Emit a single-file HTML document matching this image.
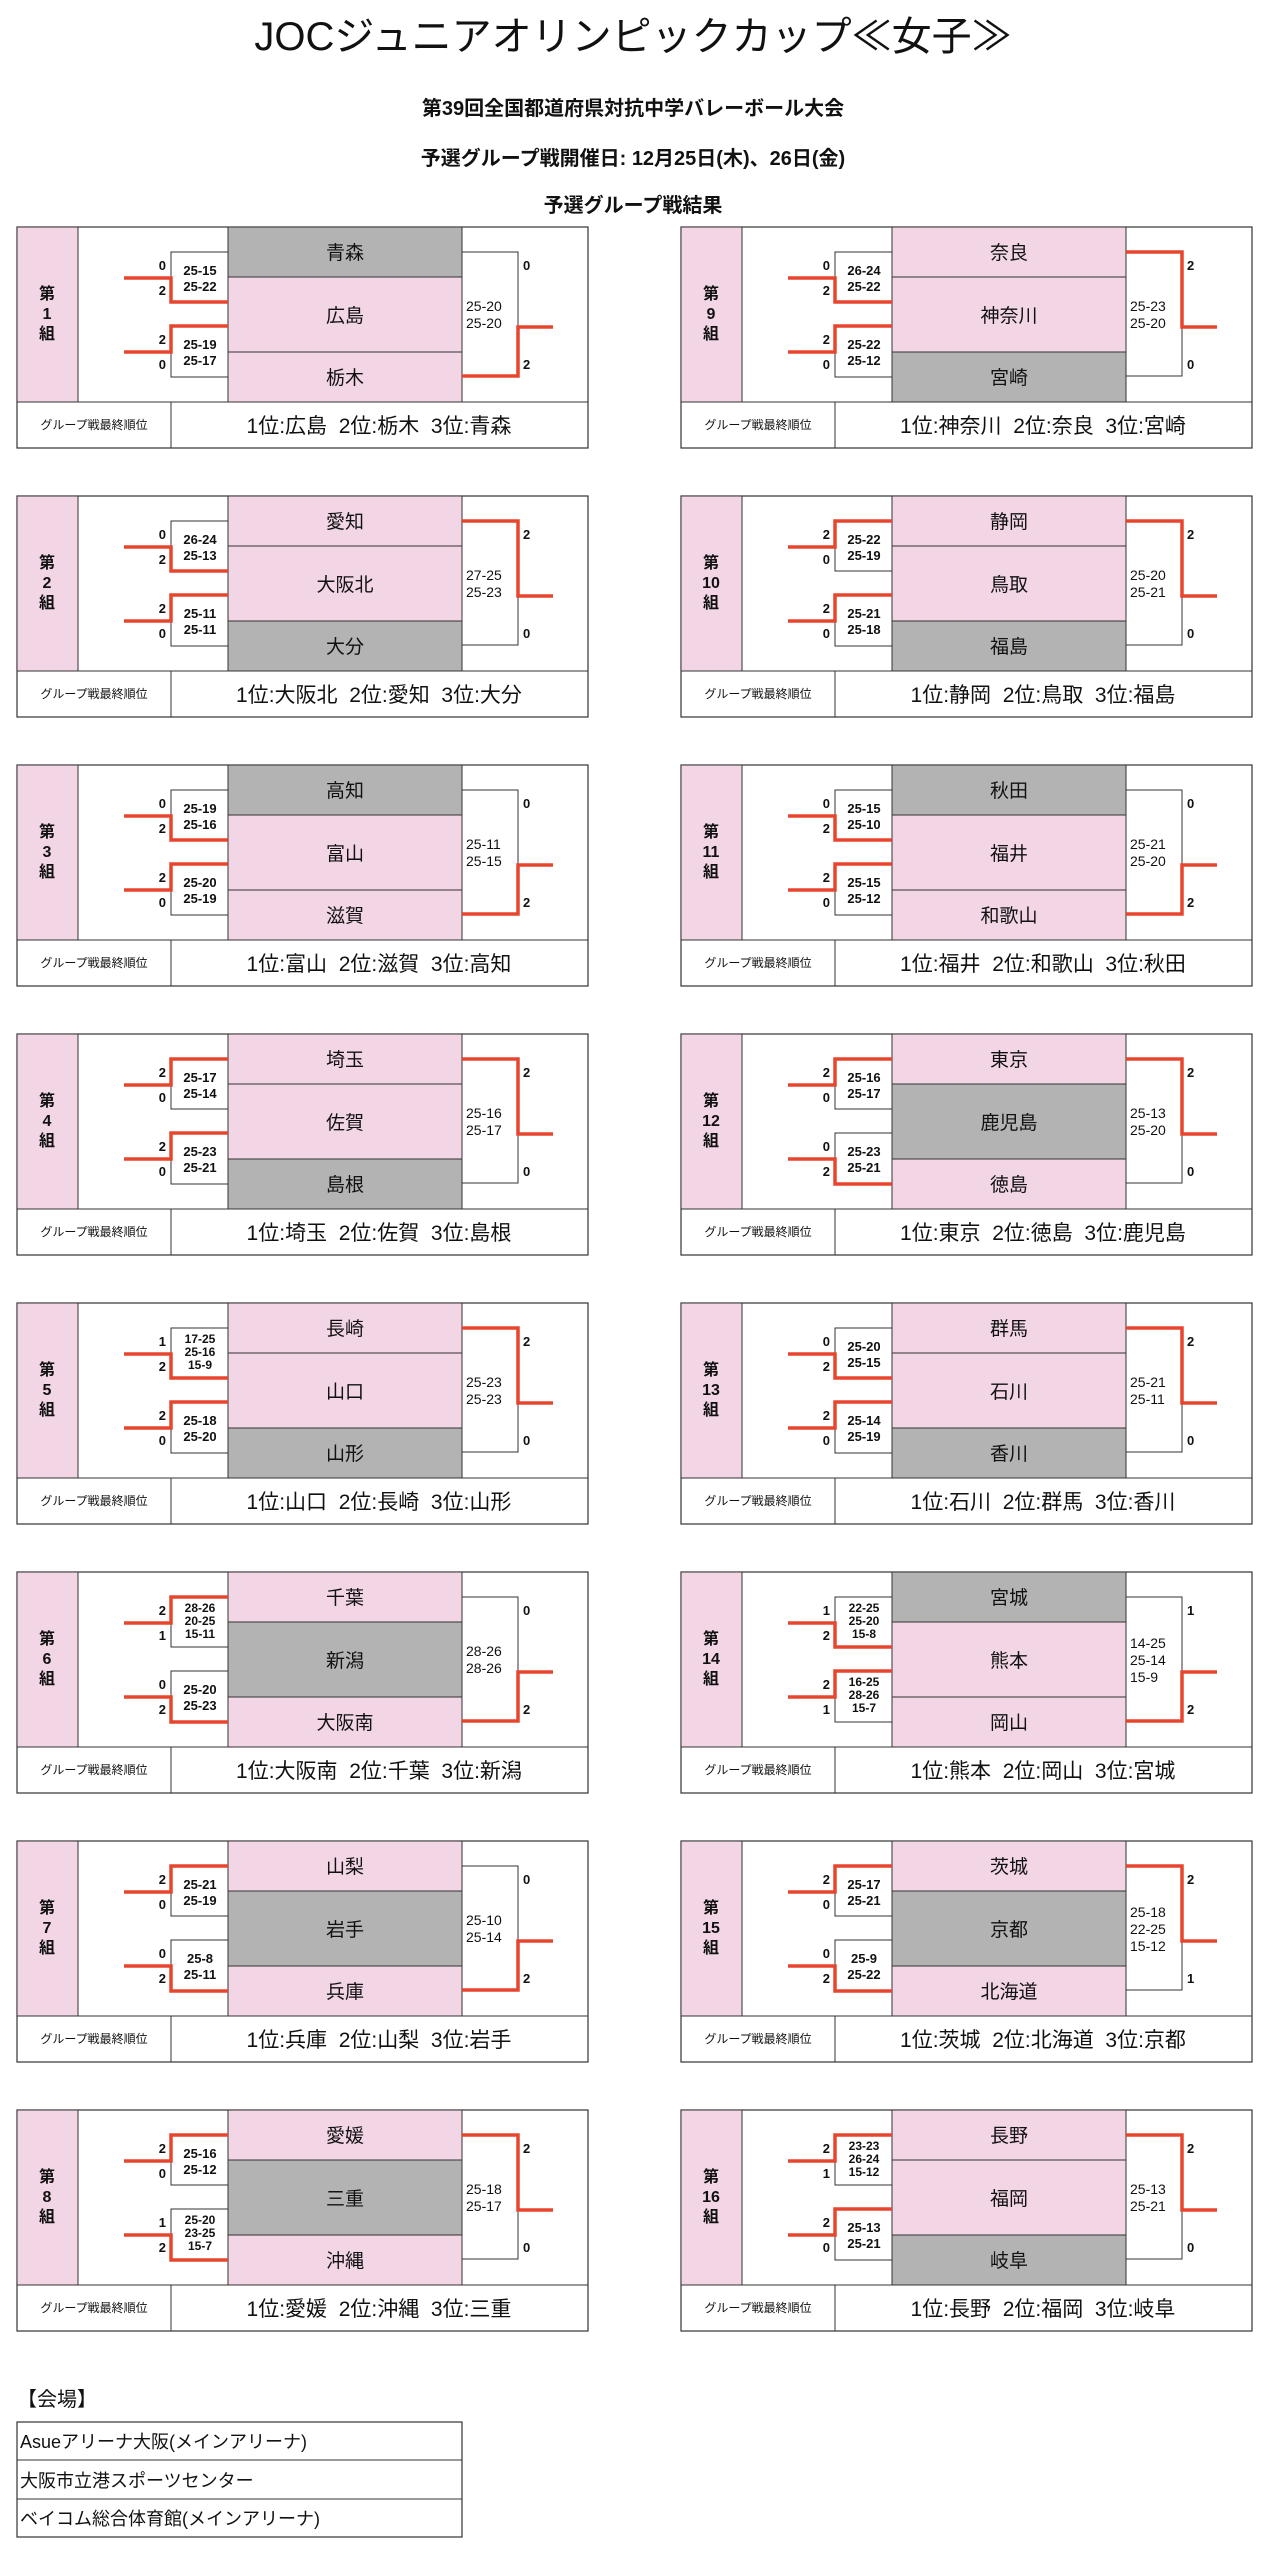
<!DOCTYPE html>
<html><head><meta charset="utf-8"><style>
html,body{margin:0;padding:0;background:#fff;}
svg{display:block;}
text{font-family:"Liberation Sans","Noto Sans CJK JP",sans-serif;fill:#111;}
.t{font-size:19px;text-anchor:middle;}
.lb{font-size:16px;font-weight:bold;text-anchor:middle;}
.ss{font-size:13px;font-weight:bold;text-anchor:middle;}
.s3{font-size:12px;font-weight:bold;text-anchor:middle;}
.sc{font-size:13px;font-weight:bold;}
.scl{font-size:13px;font-weight:bold;text-anchor:end;}
.rs{font-size:14px;}
.gl{font-size:12px;text-anchor:middle;}
.rk{font-size:21px;text-anchor:middle;white-space:pre;}
.red{fill:none;stroke:#e8452f;stroke-width:3.5;}
.gr{fill:#b3b3b3;stroke:#333;stroke-width:1;}
</style></head><body>
<svg width="1266" height="2560" viewBox="0 0 1266 2560" xmlns="http://www.w3.org/2000/svg">
<defs>
<g id="sk">
<rect x="0" y="0" width="571" height="221" fill="#fff" stroke="#333" stroke-width="1.2"/>
<rect x="0" y="0" width="61" height="175" fill="#f3d6e6" stroke="#333" stroke-width="1"/>
<rect x="211" y="0" width="234" height="175" fill="#f3d6e6" stroke="#333" stroke-width="1"/>
<path d="M211,50H445M211,125H445M0,175H571M154,175V221" stroke="#333" stroke-width="1" fill="none"/>
<path d="M211,25H154V75H211M211,99H154V150H211M445,25H501V149H445" stroke="#333" stroke-width="1" fill="none"/>
</g>
</defs>

<text x="633" y="50" style="font-size:40px;text-anchor:middle;">JOCジュニアオリンピックカップ≪女子≫</text>
<text x="633" y="115" style="font-size:20px;font-weight:bold;text-anchor:middle;">第39回全国都道府県対抗中学バレーボール大会</text>
<text x="633" y="165" style="font-size:20px;font-weight:bold;text-anchor:middle;">予選グループ戦開催日: 12月25日(木)、26日(金)</text>
<text x="633" y="212" style="font-size:20px;font-weight:bold;text-anchor:middle;">予選グループ戦結果</text>

<!-- Group 1 -->
<g transform="translate(17,227)">
<use href="#sk"/>
<rect class="gr" x="211" y="0" width="234" height="50"/>
<path class="red" d="M107,51H154V75H211"/><path class="red" d="M107,125H154V99H211"/><path class="red" d="M445,149H501V100H536"/>
<text class="lb" x="30" y="72">第</text><text class="lb" x="30" y="92">1</text><text class="lb" x="30" y="112">組</text>
<text class="t" x="328" y="32">青森</text><text class="t" x="328" y="95">広島</text><text class="t" x="328" y="157">栃木</text>
<text class="scl" x="149" y="43">0</text><text class="scl" x="149" y="68">2</text>
<text class="ss" x="183" y="48">25-15</text><text class="ss" x="183" y="64">25-22</text>
<text class="scl" x="149" y="117">2</text><text class="scl" x="149" y="142">0</text>
<text class="ss" x="183" y="122">25-19</text><text class="ss" x="183" y="138">25-17</text>
<text class="rs" x="449" y="84">25-20</text><text class="rs" x="449" y="101">25-20</text>
<text class="sc" x="506" y="43">0</text><text class="sc" x="506" y="142">2</text>
<text class="gl" x="77" y="202">グループ戦最終順位</text>
<text class="rk" x="362" y="206">1位:広島  2位:栃木  3位:青森</text>
</g>

<!-- Group 2 -->
<g transform="translate(17,496)">
<use href="#sk"/>
<rect class="gr" x="211" y="125" width="234" height="50"/>
<path class="red" d="M107,51H154V75H211"/><path class="red" d="M107,125H154V99H211"/><path class="red" d="M445,25H501V100H536"/>
<text class="lb" x="30" y="72">第</text><text class="lb" x="30" y="92">2</text><text class="lb" x="30" y="112">組</text>
<text class="t" x="328" y="32">愛知</text><text class="t" x="328" y="95">大阪北</text><text class="t" x="328" y="157">大分</text>
<text class="scl" x="149" y="43">0</text><text class="scl" x="149" y="68">2</text>
<text class="ss" x="183" y="48">26-24</text><text class="ss" x="183" y="64">25-13</text>
<text class="scl" x="149" y="117">2</text><text class="scl" x="149" y="142">0</text>
<text class="ss" x="183" y="122">25-11</text><text class="ss" x="183" y="138">25-11</text>
<text class="rs" x="449" y="84">27-25</text><text class="rs" x="449" y="101">25-23</text>
<text class="sc" x="506" y="43">2</text><text class="sc" x="506" y="142">0</text>
<text class="gl" x="77" y="202">グループ戦最終順位</text>
<text class="rk" x="362" y="206">1位:大阪北  2位:愛知  3位:大分</text>
</g>

<!-- Group 3 -->
<g transform="translate(17,765)">
<use href="#sk"/>
<rect class="gr" x="211" y="0" width="234" height="50"/>
<path class="red" d="M107,51H154V75H211"/><path class="red" d="M107,125H154V99H211"/><path class="red" d="M445,149H501V100H536"/>
<text class="lb" x="30" y="72">第</text><text class="lb" x="30" y="92">3</text><text class="lb" x="30" y="112">組</text>
<text class="t" x="328" y="32">高知</text><text class="t" x="328" y="95">富山</text><text class="t" x="328" y="157">滋賀</text>
<text class="scl" x="149" y="43">0</text><text class="scl" x="149" y="68">2</text>
<text class="ss" x="183" y="48">25-19</text><text class="ss" x="183" y="64">25-16</text>
<text class="scl" x="149" y="117">2</text><text class="scl" x="149" y="142">0</text>
<text class="ss" x="183" y="122">25-20</text><text class="ss" x="183" y="138">25-19</text>
<text class="rs" x="449" y="84">25-11</text><text class="rs" x="449" y="101">25-15</text>
<text class="sc" x="506" y="43">0</text><text class="sc" x="506" y="142">2</text>
<text class="gl" x="77" y="202">グループ戦最終順位</text>
<text class="rk" x="362" y="206">1位:富山  2位:滋賀  3位:高知</text>
</g>

<!-- Group 4 -->
<g transform="translate(17,1034)">
<use href="#sk"/>
<rect class="gr" x="211" y="125" width="234" height="50"/>
<path class="red" d="M107,51H154V25H211"/><path class="red" d="M107,125H154V99H211"/><path class="red" d="M445,25H501V100H536"/>
<text class="lb" x="30" y="72">第</text><text class="lb" x="30" y="92">4</text><text class="lb" x="30" y="112">組</text>
<text class="t" x="328" y="32">埼玉</text><text class="t" x="328" y="95">佐賀</text><text class="t" x="328" y="157">島根</text>
<text class="scl" x="149" y="43">2</text><text class="scl" x="149" y="68">0</text>
<text class="ss" x="183" y="48">25-17</text><text class="ss" x="183" y="64">25-14</text>
<text class="scl" x="149" y="117">2</text><text class="scl" x="149" y="142">0</text>
<text class="ss" x="183" y="122">25-23</text><text class="ss" x="183" y="138">25-21</text>
<text class="rs" x="449" y="84">25-16</text><text class="rs" x="449" y="101">25-17</text>
<text class="sc" x="506" y="43">2</text><text class="sc" x="506" y="142">0</text>
<text class="gl" x="77" y="202">グループ戦最終順位</text>
<text class="rk" x="362" y="206">1位:埼玉  2位:佐賀  3位:島根</text>
</g>

<!-- Group 5 -->
<g transform="translate(17,1303)">
<use href="#sk"/>
<rect class="gr" x="211" y="125" width="234" height="50"/>
<path class="red" d="M107,51H154V75H211"/><path class="red" d="M107,125H154V99H211"/><path class="red" d="M445,25H501V100H536"/>
<text class="lb" x="30" y="72">第</text><text class="lb" x="30" y="92">5</text><text class="lb" x="30" y="112">組</text>
<text class="t" x="328" y="32">長崎</text><text class="t" x="328" y="95">山口</text><text class="t" x="328" y="157">山形</text>
<text class="scl" x="149" y="43">1</text><text class="scl" x="149" y="68">2</text>
<text class="s3" x="183" y="40">17-25</text><text class="s3" x="183" y="53">25-16</text><text class="s3" x="183" y="66">15-9</text>
<text class="scl" x="149" y="117">2</text><text class="scl" x="149" y="142">0</text>
<text class="ss" x="183" y="122">25-18</text><text class="ss" x="183" y="138">25-20</text>
<text class="rs" x="449" y="84">25-23</text><text class="rs" x="449" y="101">25-23</text>
<text class="sc" x="506" y="43">2</text><text class="sc" x="506" y="142">0</text>
<text class="gl" x="77" y="202">グループ戦最終順位</text>
<text class="rk" x="362" y="206">1位:山口  2位:長崎  3位:山形</text>
</g>

<!-- Group 6 -->
<g transform="translate(17,1572)">
<use href="#sk"/>
<rect class="gr" x="211" y="50" width="234" height="75"/>
<path class="red" d="M107,51H154V25H211"/><path class="red" d="M107,125H154V150H211"/><path class="red" d="M445,149H501V100H536"/>
<text class="lb" x="30" y="72">第</text><text class="lb" x="30" y="92">6</text><text class="lb" x="30" y="112">組</text>
<text class="t" x="328" y="32">千葉</text><text class="t" x="328" y="95">新潟</text><text class="t" x="328" y="157">大阪南</text>
<text class="scl" x="149" y="43">2</text><text class="scl" x="149" y="68">1</text>
<text class="s3" x="183" y="40">28-26</text><text class="s3" x="183" y="53">20-25</text><text class="s3" x="183" y="66">15-11</text>
<text class="scl" x="149" y="117">0</text><text class="scl" x="149" y="142">2</text>
<text class="ss" x="183" y="122">25-20</text><text class="ss" x="183" y="138">25-23</text>
<text class="rs" x="449" y="84">28-26</text><text class="rs" x="449" y="101">28-26</text>
<text class="sc" x="506" y="43">0</text><text class="sc" x="506" y="142">2</text>
<text class="gl" x="77" y="202">グループ戦最終順位</text>
<text class="rk" x="362" y="206">1位:大阪南  2位:千葉  3位:新潟</text>
</g>

<!-- Group 7 -->
<g transform="translate(17,1841)">
<use href="#sk"/>
<rect class="gr" x="211" y="50" width="234" height="75"/>
<path class="red" d="M107,51H154V25H211"/><path class="red" d="M107,125H154V150H211"/><path class="red" d="M445,149H501V100H536"/>
<text class="lb" x="30" y="72">第</text><text class="lb" x="30" y="92">7</text><text class="lb" x="30" y="112">組</text>
<text class="t" x="328" y="32">山梨</text><text class="t" x="328" y="95">岩手</text><text class="t" x="328" y="157">兵庫</text>
<text class="scl" x="149" y="43">2</text><text class="scl" x="149" y="68">0</text>
<text class="ss" x="183" y="48">25-21</text><text class="ss" x="183" y="64">25-19</text>
<text class="scl" x="149" y="117">0</text><text class="scl" x="149" y="142">2</text>
<text class="ss" x="183" y="122">25-8</text><text class="ss" x="183" y="138">25-11</text>
<text class="rs" x="449" y="84">25-10</text><text class="rs" x="449" y="101">25-14</text>
<text class="sc" x="506" y="43">0</text><text class="sc" x="506" y="142">2</text>
<text class="gl" x="77" y="202">グループ戦最終順位</text>
<text class="rk" x="362" y="206">1位:兵庫  2位:山梨  3位:岩手</text>
</g>

<!-- Group 8 -->
<g transform="translate(17,2110)">
<use href="#sk"/>
<rect class="gr" x="211" y="50" width="234" height="75"/>
<path class="red" d="M107,51H154V25H211"/><path class="red" d="M107,125H154V150H211"/><path class="red" d="M445,25H501V100H536"/>
<text class="lb" x="30" y="72">第</text><text class="lb" x="30" y="92">8</text><text class="lb" x="30" y="112">組</text>
<text class="t" x="328" y="32">愛媛</text><text class="t" x="328" y="95">三重</text><text class="t" x="328" y="157">沖縄</text>
<text class="scl" x="149" y="43">2</text><text class="scl" x="149" y="68">0</text>
<text class="ss" x="183" y="48">25-16</text><text class="ss" x="183" y="64">25-12</text>
<text class="scl" x="149" y="117">1</text><text class="scl" x="149" y="142">2</text>
<text class="s3" x="183" y="114">25-20</text><text class="s3" x="183" y="127">23-25</text><text class="s3" x="183" y="140">15-7</text>
<text class="rs" x="449" y="84">25-18</text><text class="rs" x="449" y="101">25-17</text>
<text class="sc" x="506" y="43">2</text><text class="sc" x="506" y="142">0</text>
<text class="gl" x="77" y="202">グループ戦最終順位</text>
<text class="rk" x="362" y="206">1位:愛媛  2位:沖縄  3位:三重</text>
</g>

<!-- Group 9 -->
<g transform="translate(681,227)">
<use href="#sk"/>
<rect class="gr" x="211" y="125" width="234" height="50"/>
<path class="red" d="M107,51H154V75H211"/><path class="red" d="M107,125H154V99H211"/><path class="red" d="M445,25H501V100H536"/>
<text class="lb" x="30" y="72">第</text><text class="lb" x="30" y="92">9</text><text class="lb" x="30" y="112">組</text>
<text class="t" x="328" y="32">奈良</text><text class="t" x="328" y="95">神奈川</text><text class="t" x="328" y="157">宮崎</text>
<text class="scl" x="149" y="43">0</text><text class="scl" x="149" y="68">2</text>
<text class="ss" x="183" y="48">26-24</text><text class="ss" x="183" y="64">25-22</text>
<text class="scl" x="149" y="117">2</text><text class="scl" x="149" y="142">0</text>
<text class="ss" x="183" y="122">25-22</text><text class="ss" x="183" y="138">25-12</text>
<text class="rs" x="449" y="84">25-23</text><text class="rs" x="449" y="101">25-20</text>
<text class="sc" x="506" y="43">2</text><text class="sc" x="506" y="142">0</text>
<text class="gl" x="77" y="202">グループ戦最終順位</text>
<text class="rk" x="362" y="206">1位:神奈川  2位:奈良  3位:宮崎</text>
</g>

<!-- Group 10 -->
<g transform="translate(681,496)">
<use href="#sk"/>
<rect class="gr" x="211" y="125" width="234" height="50"/>
<path class="red" d="M107,51H154V25H211"/><path class="red" d="M107,125H154V99H211"/><path class="red" d="M445,25H501V100H536"/>
<text class="lb" x="30" y="72">第</text><text class="lb" x="30" y="92">10</text><text class="lb" x="30" y="112">組</text>
<text class="t" x="328" y="32">静岡</text><text class="t" x="328" y="95">鳥取</text><text class="t" x="328" y="157">福島</text>
<text class="scl" x="149" y="43">2</text><text class="scl" x="149" y="68">0</text>
<text class="ss" x="183" y="48">25-22</text><text class="ss" x="183" y="64">25-19</text>
<text class="scl" x="149" y="117">2</text><text class="scl" x="149" y="142">0</text>
<text class="ss" x="183" y="122">25-21</text><text class="ss" x="183" y="138">25-18</text>
<text class="rs" x="449" y="84">25-20</text><text class="rs" x="449" y="101">25-21</text>
<text class="sc" x="506" y="43">2</text><text class="sc" x="506" y="142">0</text>
<text class="gl" x="77" y="202">グループ戦最終順位</text>
<text class="rk" x="362" y="206">1位:静岡  2位:鳥取  3位:福島</text>
</g>

<!-- Group 11 -->
<g transform="translate(681,765)">
<use href="#sk"/>
<rect class="gr" x="211" y="0" width="234" height="50"/>
<path class="red" d="M107,51H154V75H211"/><path class="red" d="M107,125H154V99H211"/><path class="red" d="M445,149H501V100H536"/>
<text class="lb" x="30" y="72">第</text><text class="lb" x="30" y="92">11</text><text class="lb" x="30" y="112">組</text>
<text class="t" x="328" y="32">秋田</text><text class="t" x="328" y="95">福井</text><text class="t" x="328" y="157">和歌山</text>
<text class="scl" x="149" y="43">0</text><text class="scl" x="149" y="68">2</text>
<text class="ss" x="183" y="48">25-15</text><text class="ss" x="183" y="64">25-10</text>
<text class="scl" x="149" y="117">2</text><text class="scl" x="149" y="142">0</text>
<text class="ss" x="183" y="122">25-15</text><text class="ss" x="183" y="138">25-12</text>
<text class="rs" x="449" y="84">25-21</text><text class="rs" x="449" y="101">25-20</text>
<text class="sc" x="506" y="43">0</text><text class="sc" x="506" y="142">2</text>
<text class="gl" x="77" y="202">グループ戦最終順位</text>
<text class="rk" x="362" y="206">1位:福井  2位:和歌山  3位:秋田</text>
</g>

<!-- Group 12 -->
<g transform="translate(681,1034)">
<use href="#sk"/>
<rect class="gr" x="211" y="50" width="234" height="75"/>
<path class="red" d="M107,51H154V25H211"/><path class="red" d="M107,125H154V150H211"/><path class="red" d="M445,25H501V100H536"/>
<text class="lb" x="30" y="72">第</text><text class="lb" x="30" y="92">12</text><text class="lb" x="30" y="112">組</text>
<text class="t" x="328" y="32">東京</text><text class="t" x="328" y="95">鹿児島</text><text class="t" x="328" y="157">徳島</text>
<text class="scl" x="149" y="43">2</text><text class="scl" x="149" y="68">0</text>
<text class="ss" x="183" y="48">25-16</text><text class="ss" x="183" y="64">25-17</text>
<text class="scl" x="149" y="117">0</text><text class="scl" x="149" y="142">2</text>
<text class="ss" x="183" y="122">25-23</text><text class="ss" x="183" y="138">25-21</text>
<text class="rs" x="449" y="84">25-13</text><text class="rs" x="449" y="101">25-20</text>
<text class="sc" x="506" y="43">2</text><text class="sc" x="506" y="142">0</text>
<text class="gl" x="77" y="202">グループ戦最終順位</text>
<text class="rk" x="362" y="206">1位:東京  2位:徳島  3位:鹿児島</text>
</g>

<!-- Group 13 -->
<g transform="translate(681,1303)">
<use href="#sk"/>
<rect class="gr" x="211" y="125" width="234" height="50"/>
<path class="red" d="M107,51H154V75H211"/><path class="red" d="M107,125H154V99H211"/><path class="red" d="M445,25H501V100H536"/>
<text class="lb" x="30" y="72">第</text><text class="lb" x="30" y="92">13</text><text class="lb" x="30" y="112">組</text>
<text class="t" x="328" y="32">群馬</text><text class="t" x="328" y="95">石川</text><text class="t" x="328" y="157">香川</text>
<text class="scl" x="149" y="43">0</text><text class="scl" x="149" y="68">2</text>
<text class="ss" x="183" y="48">25-20</text><text class="ss" x="183" y="64">25-15</text>
<text class="scl" x="149" y="117">2</text><text class="scl" x="149" y="142">0</text>
<text class="ss" x="183" y="122">25-14</text><text class="ss" x="183" y="138">25-19</text>
<text class="rs" x="449" y="84">25-21</text><text class="rs" x="449" y="101">25-11</text>
<text class="sc" x="506" y="43">2</text><text class="sc" x="506" y="142">0</text>
<text class="gl" x="77" y="202">グループ戦最終順位</text>
<text class="rk" x="362" y="206">1位:石川  2位:群馬  3位:香川</text>
</g>

<!-- Group 14 -->
<g transform="translate(681,1572)">
<use href="#sk"/>
<rect class="gr" x="211" y="0" width="234" height="50"/>
<path class="red" d="M107,51H154V75H211"/><path class="red" d="M107,125H154V99H211"/><path class="red" d="M445,149H501V100H536"/>
<text class="lb" x="30" y="72">第</text><text class="lb" x="30" y="92">14</text><text class="lb" x="30" y="112">組</text>
<text class="t" x="328" y="32">宮城</text><text class="t" x="328" y="95">熊本</text><text class="t" x="328" y="157">岡山</text>
<text class="scl" x="149" y="43">1</text><text class="scl" x="149" y="68">2</text>
<text class="s3" x="183" y="40">22-25</text><text class="s3" x="183" y="53">25-20</text><text class="s3" x="183" y="66">15-8</text>
<text class="scl" x="149" y="117">2</text><text class="scl" x="149" y="142">1</text>
<text class="s3" x="183" y="114">16-25</text><text class="s3" x="183" y="127">28-26</text><text class="s3" x="183" y="140">15-7</text>
<text class="rs" x="449" y="76">14-25</text><text class="rs" x="449" y="93">25-14</text><text class="rs" x="449" y="110">15-9</text>
<text class="sc" x="506" y="43">1</text><text class="sc" x="506" y="142">2</text>
<text class="gl" x="77" y="202">グループ戦最終順位</text>
<text class="rk" x="362" y="206">1位:熊本  2位:岡山  3位:宮城</text>
</g>

<!-- Group 15 -->
<g transform="translate(681,1841)">
<use href="#sk"/>
<rect class="gr" x="211" y="50" width="234" height="75"/>
<path class="red" d="M107,51H154V25H211"/><path class="red" d="M107,125H154V150H211"/><path class="red" d="M445,25H501V100H536"/>
<text class="lb" x="30" y="72">第</text><text class="lb" x="30" y="92">15</text><text class="lb" x="30" y="112">組</text>
<text class="t" x="328" y="32">茨城</text><text class="t" x="328" y="95">京都</text><text class="t" x="328" y="157">北海道</text>
<text class="scl" x="149" y="43">2</text><text class="scl" x="149" y="68">0</text>
<text class="ss" x="183" y="48">25-17</text><text class="ss" x="183" y="64">25-21</text>
<text class="scl" x="149" y="117">0</text><text class="scl" x="149" y="142">2</text>
<text class="ss" x="183" y="122">25-9</text><text class="ss" x="183" y="138">25-22</text>
<text class="rs" x="449" y="76">25-18</text><text class="rs" x="449" y="93">22-25</text><text class="rs" x="449" y="110">15-12</text>
<text class="sc" x="506" y="43">2</text><text class="sc" x="506" y="142">1</text>
<text class="gl" x="77" y="202">グループ戦最終順位</text>
<text class="rk" x="362" y="206">1位:茨城  2位:北海道  3位:京都</text>
</g>

<!-- Group 16 -->
<g transform="translate(681,2110)">
<use href="#sk"/>
<rect class="gr" x="211" y="125" width="234" height="50"/>
<path class="red" d="M107,51H154V25H211"/><path class="red" d="M107,125H154V99H211"/><path class="red" d="M445,25H501V100H536"/>
<text class="lb" x="30" y="72">第</text><text class="lb" x="30" y="92">16</text><text class="lb" x="30" y="112">組</text>
<text class="t" x="328" y="32">長野</text><text class="t" x="328" y="95">福岡</text><text class="t" x="328" y="157">岐阜</text>
<text class="scl" x="149" y="43">2</text><text class="scl" x="149" y="68">1</text>
<text class="s3" x="183" y="40">23-23</text><text class="s3" x="183" y="53">26-24</text><text class="s3" x="183" y="66">15-12</text>
<text class="scl" x="149" y="117">2</text><text class="scl" x="149" y="142">0</text>
<text class="ss" x="183" y="122">25-13</text><text class="ss" x="183" y="138">25-21</text>
<text class="rs" x="449" y="84">25-13</text><text class="rs" x="449" y="101">25-21</text>
<text class="sc" x="506" y="43">2</text><text class="sc" x="506" y="142">0</text>
<text class="gl" x="77" y="202">グループ戦最終順位</text>
<text class="rk" x="362" y="206">1位:長野  2位:福岡  3位:岐阜</text>
</g>

<!-- Venues -->
<text x="17" y="2406" style="font-size:20px;">【会場】</text>
<rect x="17" y="2422" width="445" height="115" fill="#fff" stroke="#333" stroke-width="1.2"/>
<path d="M17,2460H462M17,2499H462" stroke="#333" stroke-width="1"/>
<text x="20" y="2448" style="font-size:18px;">Asueアリーナ大阪(メインアリーナ)</text>
<text x="20" y="2487" style="font-size:18px;">大阪市立港スポーツセンター</text>
<text x="20" y="2525" style="font-size:18px;">ベイコム総合体育館(メインアリーナ)</text>
</svg>
</body></html>
